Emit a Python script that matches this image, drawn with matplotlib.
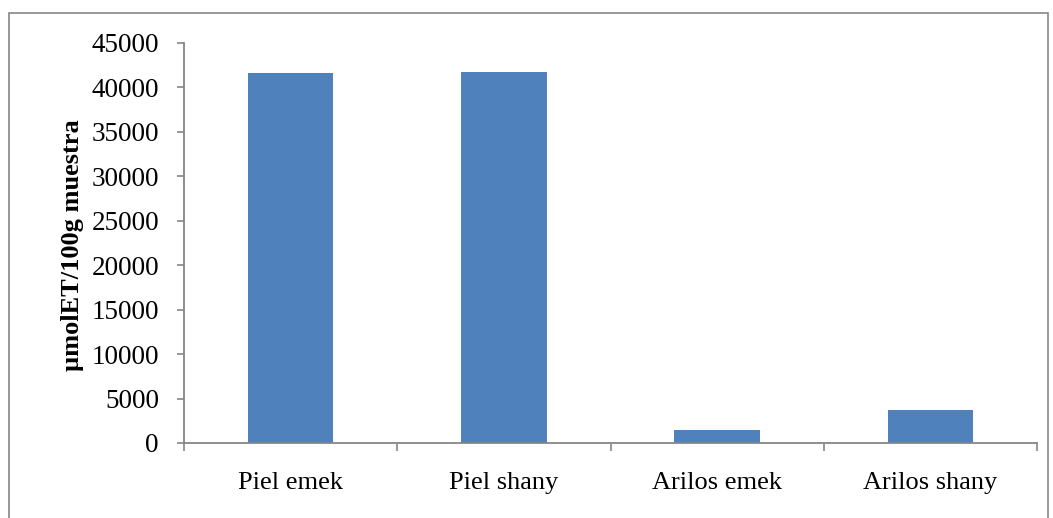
import numpy as np
import matplotlib.pyplot as plt
from matplotlib.patches import Rectangle
from matplotlib.ticker import FixedLocator

# Capacidad antioxidante por muestra
muestras = ['Piel emek', 'Piel shany', 'Arilos emek', 'Arilos shany']
valores = [41600, 41700, 1500, 3700]
yticks = np.arange(0, 45001, 5000)

plt.rcParams['font.family'] = ['Liberation Serif', 'DejaVu Serif']

fig = plt.figure(figsize=(10.53, 5.18), dpi=100)
ax = fig.add_axes([184 / 1053, 1 - 443 / 518, (1037 - 184) / 1053, 400 / 518])

gris = '#868686'
x = np.arange(len(muestras))
ax.bar(x, valores, width=0.4, color='#4F81BD', zorder=2)

ax.set_xlim(-0.5, len(muestras) - 0.5)
ax.set_ylim(0, 45000)
ax.set_yticks(yticks)
ax.set_yticklabels([str(v) for v in yticks], fontsize=19.5)

# etiquetas centradas y marcas entre categorias
ax.set_xticks(x)
ax.set_xticklabels(muestras, fontsize=19)
ax.xaxis.set_minor_locator(FixedLocator(np.arange(-0.5, len(muestras), 1.0)))
ax.tick_params(axis='x', which='major', length=0, pad=21)
ax.tick_params(axis='x', which='minor', length=6, width=1.2, color=gris, direction='out')
ax.tick_params(axis='y', length=5, width=1.2, color=gris, direction='out', pad=13)

for s in ['top', 'right']:
    ax.spines[s].set_visible(False)
for s in ['left', 'bottom']:
    ax.spines[s].set_color(gris)
    ax.spines[s].set_linewidth(1.3)

fig.text(73 / 1053, 1 - 245 / 518, 'µmolET/100g muestra', rotation=90,
         fontsize=19, fontweight='bold', ha='center', va='center')

# marco exterior del grafico
fig.patches.append(Rectangle((9 / 1053, -0.1), (1048 - 9) / 1053, 1.1 - 13 / 518,
                             transform=fig.transFigure, fill=False,
                             edgecolor=gris, linewidth=1.2))

fig.savefig('out.png', dpi=100)
